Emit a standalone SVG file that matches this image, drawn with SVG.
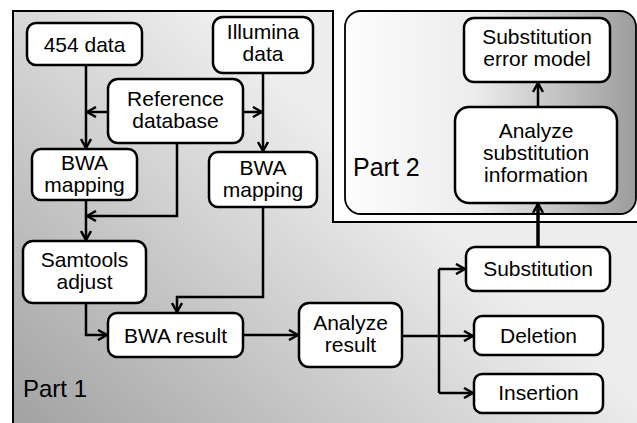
<svg xmlns="http://www.w3.org/2000/svg" width="637" height="423" viewBox="0 0 637 423">
<defs>
<linearGradient id="g1" gradientUnits="userSpaceOnUse" x1="13" y1="423" x2="300" y2="100">
<stop offset="0" stop-color="#a2a2a2"/>
<stop offset="1" stop-color="#ededed"/>
</linearGradient>
<linearGradient id="g2" gradientUnits="userSpaceOnUse" x1="345" y1="0" x2="636" y2="0">
<stop offset="0" stop-color="#fdfdfd"/>
<stop offset="0.45" stop-color="#ececec"/>
<stop offset="1" stop-color="#9c9c9c"/>
</linearGradient>
<marker id="ar" viewBox="0 0 12 12" refX="11" refY="6" markerWidth="12" markerHeight="12" markerUnits="userSpaceOnUse" orient="auto">
<path d="M2,1 L11,6 L2,11" fill="none" stroke="#000" stroke-width="2.5"/>
</marker>
</defs>
<style>
.box{fill:#fff;stroke:#000;stroke-width:2.5}
.t{font-family:"Liberation Sans",Arial,sans-serif;font-size:21px;fill:#000;text-anchor:middle}
.lbl{font-family:"Liberation Sans",Arial,sans-serif;font-size:24px;fill:#000}
.c{fill:none;stroke:#000;stroke-width:2.5;marker-end:url(#ar)}
.cn{fill:none;stroke:#000;stroke-width:2.5}
</style>
<rect width="637" height="423" fill="#fff"/>
<g id="part1">
<path d="M13,11 H333 V222 H645 V435 H13 Z" fill="url(#g1)" stroke="#000" stroke-width="2"/>
<text class="lbl" x="23" y="397">Part 1</text>
</g>
<g id="part2">
<rect x="345" y="11" width="291" height="203" rx="16" fill="url(#g2)" stroke="#000" stroke-width="1.8"/>
<text class="lbl" x="353" y="176" style="font-size:25px">Part 2</text>
</g>
<g id="connectors">
<path class="c" d="M86,65 V148"/>
<path class="c" d="M108,112 H87"/>
<path class="c" d="M243,112 H262"/>
<path class="c" d="M263,73 V151"/>
<path class="c" d="M177,143 V216 H87"/>
<path class="c" d="M86,200 V240"/>
<path class="c" d="M263,207 V297 H177 V312"/>
<path class="c" d="M86,303 V335 H107"/>
<path class="c" d="M243,335 H298"/>
<path class="c" d="M402,336 H473"/>
<path class="cn" d="M439,269 V393"/>
<path class="c" d="M439,269 H465"/>
<path class="c" d="M439,393 H473"/>
<path class="c" d="M538,247 V204" style="stroke-width:3.5"/>
<path class="c" d="M538,107 V83"/>
</g>
<g id="n454"><rect class="box" x="27" y="23" width="115" height="42" rx="9"/><text class="t" x="84.5" y="52">454 data</text></g>
<g id="nIllumina"><rect class="box" x="213" y="17" width="100" height="56" rx="10"/><text class="t" x="263" y="39">Illumina</text><text class="t" x="263" y="61">data</text></g>
<g id="nRef"><rect class="box" x="108" y="79" width="135" height="64" rx="10"/><text class="t" x="175.5" y="106">Reference</text><text class="t" x="175.5" y="128">database</text></g>
<g id="nBwaL"><rect class="box" x="32" y="149" width="105" height="51" rx="9"/><text class="t" x="84.5" y="170">BWA</text><text class="t" x="84.5" y="192">mapping</text></g>
<g id="nBwaR"><rect class="box" x="209" y="152" width="108" height="55" rx="9"/><text class="t" x="263" y="175">BWA</text><text class="t" x="263" y="197">mapping</text></g>
<g id="nSam"><rect class="box" x="23" y="241" width="123" height="62" rx="10"/><text class="t" x="84.5" y="267">Samtools</text><text class="t" x="84.5" y="289">adjust</text></g>
<g id="nBwaRes"><rect class="box" x="108" y="313" width="135" height="44" rx="9"/><text class="t" x="175.5" y="343">BWA result</text></g>
<g id="nAnalyze"><rect class="box" x="299" y="303" width="103" height="64" rx="10"/><text class="t" x="350.5" y="330">Analyze</text><text class="t" x="350.5" y="352">result</text></g>
<g id="nSubst"><rect class="box" x="466" y="247" width="144" height="44" rx="9"/><text class="t" x="538" y="276">Substitution</text></g>
<g id="nDel"><rect class="box" x="474" y="316" width="129" height="39" rx="8"/><text class="t" x="538.5" y="343">Deletion</text></g>
<g id="nIns"><rect class="box" x="474" y="374" width="129" height="39" rx="8"/><text class="t" x="538.5" y="400">Insertion</text></g>
<g id="nModel"><rect class="box" x="464" y="18" width="146" height="64" rx="10"/><text class="t" x="537" y="44">Substitution</text><text class="t" x="537" y="66">error model</text></g>
<g id="nAnaSub"><rect class="box" x="455" y="107" width="162" height="96" rx="14"/><text class="t" x="536" y="138">Analyze</text><text class="t" x="536" y="160">substitution</text><text class="t" x="536" y="182">information</text></g>
</svg>
